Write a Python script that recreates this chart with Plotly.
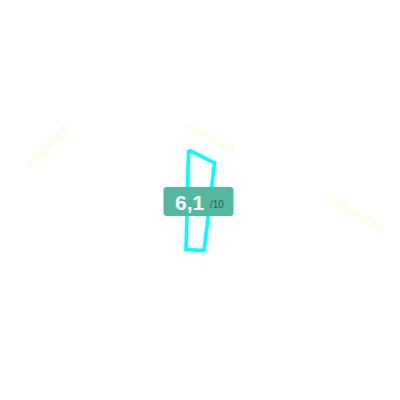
#!/usr/bin/env python3

import plotly.graph_objects as go

# outline of the area, in picture pixels
area_x = [188.5, 214.5, 204, 186, 188.5]
area_y = [150, 163, 250.5, 249.5, 150]

street_names = ['Kattestraat', 'Ieperstraat', 'Nieuwstraat']
street_x = [47, 210, 358]
street_y = [146, 137, 214]
street_angle = [-46, 27, 29]

score = '6,1'
score_max = '/10'

LINE_COLOR = '#00ffff'
BOX_COLOR = '#54b79f'
STREET_COLOR = '#f6ffd8'

fig = go.Figure()

fig.add_trace(go.Scatter(
    x=area_x,
    y=area_y,
    mode='lines',
    line=dict(color=LINE_COLOR, width=3.6),
    hoverinfo='skip',
    showlegend=False))

for name, x, y, angle in zip(street_names, street_x, street_y, street_angle):
    fig.add_annotation(
        x=x, y=y, text=name, textangle=angle, showarrow=False,
        font=dict(family='Liberation Sans', size=11.5, color=STREET_COLOR))

# rounded score box
fig.add_shape(
    type='path',
    path='M 167 187 L 230 187 Q 233.5 187 233.5 190 L 233.5 213 Q 233.5 216 230 216 '
         'L 167 216 Q 163.5 216 163.5 213 L 163.5 190 Q 163.5 187 167 187 Z',
    fillcolor=BOX_COLOR,
    line=dict(width=0),
    layer='above')

fig.add_annotation(
    x=173, y=202.5, text='<b>' + score + '</b>', showarrow=False, xanchor='left',
    font=dict(family='Liberation Sans', size=21, color='white'))
fig.add_annotation(
    x=207.5, y=204, text=score_max, showarrow=False, xanchor='left',
    font=dict(family='Liberation Sans', size=10, color='#2f5f55'))

# the page adds an 8px body margin, so the ranges start at 8 to line up with the picture
fig.update_xaxes(range=[8, 408], visible=False, fixedrange=True)
fig.update_yaxes(range=[408, 8], visible=False, fixedrange=True)
fig.update_layout(
    width=400,
    height=400,
    margin=dict(l=0, r=0, t=0, b=0),
    paper_bgcolor='white',
    plot_bgcolor='white')

fig.write_html('out.html', config=dict(displayModeBar=False))
